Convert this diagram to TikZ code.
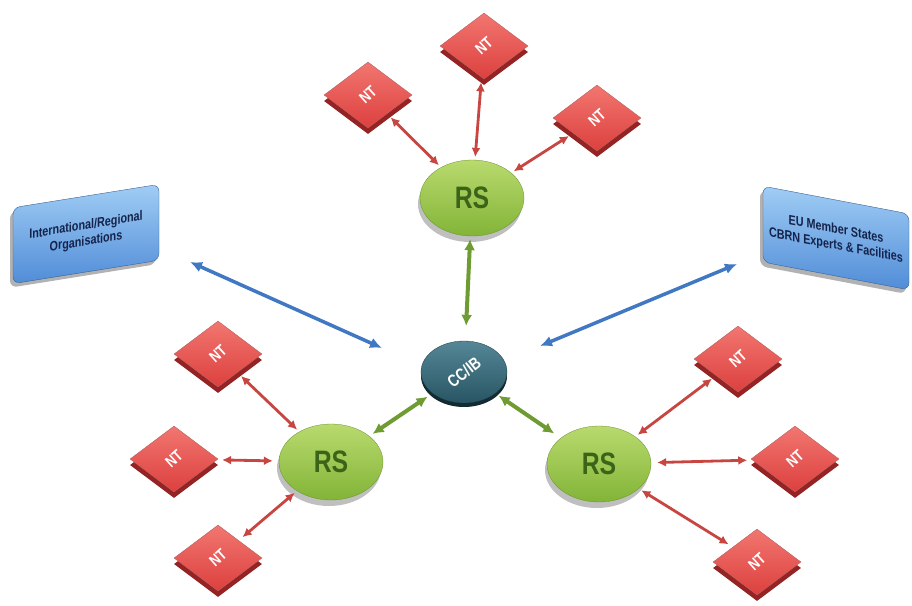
\documentclass[tikz,border=0pt]{standalone}
\usepackage{fontspec}
\setmainfont{Liberation Sans}
\newfontfamily\narrowsans[FakeStretch=0.8]{Liberation Sans}
\usetikzlibrary{shapes.geometric,shadows,arrows.meta}
\definecolor{ntlight}{RGB}{242,118,112}
\definecolor{ntface}{RGB}{220,64,62}
\definecolor{ntdark}{RGB}{150,35,35}
\definecolor{rslight}{RGB}{185,218,110}
\definecolor{rsface}{RGB}{130,180,55}
\definecolor{rstext}{RGB}{60,100,25}
\definecolor{cclight}{RGB}{85,135,150}
\definecolor{ccface}{RGB}{40,85,100}
\definecolor{boxlight}{RGB}{160,205,245}
\definecolor{boxface}{RGB}{80,140,215}
\definecolor{boxtext}{RGB}{20,35,75}
\definecolor{bluearr}{RGB}{65,120,195}
\definecolor{greenarr}{RGB}{110,155,50}
\definecolor{redarr}{RGB}{200,70,65}

\begin{document}
\begin{tikzpicture}[x=1pt, y=-1pt,
  nt/.style={diamond, minimum width=88pt, minimum height=66pt, inner sep=0pt,
    top color=ntlight, bottom color=ntface, draw=ntdark!70, line width=0.4pt,
    drop shadow={opacity=1, fill=ntdark, shadow xshift=0pt, shadow yshift=-6pt},
    text=white, font=\narrowsans\bfseries\fontsize{16}{16}\selectfont},
  rs/.style={ellipse, minimum width=104pt, minimum height=76pt, inner sep=0pt,
    top color=rslight, bottom color=rsface, draw=rsface!80!black, line width=0.3pt,
    drop shadow={opacity=1, fill=black!25, shadow xshift=-2pt, shadow yshift=-6pt},
    text=rstext, font=\narrowsans\bfseries\fontsize{31}{31}\selectfont},
  hub/.style={ellipse, minimum width=86pt, minimum height=62pt, inner sep=0pt,
    top color=cclight, bottom color=ccface, draw=ccface!70!black, line width=0.3pt,
    drop shadow={opacity=1, fill=ccface!50!black, shadow xshift=0pt, shadow yshift=-4pt},
    text=white, font=\narrowsans\bfseries\fontsize{17}{17}\selectfont},
  org/.style={rectangle, rounded corners=7pt, minimum width=146pt, minimum height=76pt,
    align=center, top color=boxlight, bottom color=boxface, draw=boxface!70!black,
    line width=0.4pt, drop shadow={opacity=0.5, fill=black!60, shadow xshift=-3pt, shadow yshift=-4pt},
    text=boxtext, font=\narrowsans\bfseries\fontsize{13.5}{16}\selectfont},
  redlink/.style={redarr, line width=2.8pt, {Latex[length=9pt,width=9pt]}-{Latex[length=9pt,width=9pt]}},
  greenlink/.style={greenarr, line width=4pt, {Latex[length=11pt,width=11pt]}-{Latex[length=11pt,width=11pt]}},
  bluelink/.style={bluearr, line width=3.5pt, {Latex[length=12pt,width=11pt]}-{Latex[length=12pt,width=11pt]}}]
  \useasboundingbox (0,0) rectangle (912,605);

  \node[rs] (rsT) at (472,198) {RS};
  \node[rs] (rsL) at (331,462) {RS};
  \node[rs] (rsR) at (599,464) {RS};
  \node[hub] (cc) at (464,372) {\rotatebox{38}{CC/IB}};

  \node[nt] (ntT1) at (368,95) {\rotatebox{42}{NT}};
  \node[nt] (ntT2) at (484,46) {\rotatebox{42}{NT}};
  \node[nt] (ntT3) at (597,118) {\rotatebox{42}{NT}};
  \node[nt] (ntL1) at (218,354) {\rotatebox{42}{NT}};
  \node[nt] (ntL2) at (174,459) {\rotatebox{42}{NT}};
  \node[nt] (ntL3) at (218,558) {\rotatebox{42}{NT}};
  \node[nt] (ntR1) at (738,359) {\rotatebox{42}{NT}};
  \node[nt] (ntR2) at (795,459) {\rotatebox{42}{NT}};
  \node[nt] (ntR3) at (757,562) {\rotatebox{42}{NT}};

  \node[org, yslant=0.16] (orgL) at (86,234) {International/Regional\\Organisations};
  \node[org, yslant=-0.19] (orgR) at (836,238) {EU Member States\\CBRN Experts \& Facilities};

  \coordinate (bL1) at (190,262);
  \coordinate (bL2) at (382,348);
  \coordinate (bR1) at (737,264);
  \coordinate (bR2) at (540,346);

  \draw[bluelink] (bL1) -- (bL2);
  \draw[bluelink] (bR1) -- (bR2);

  \draw[greenlink, shorten <=3pt, shorten >=15pt] (rsT) -- (cc);
  \draw[greenlink, shorten <=6pt, shorten >=4pt] (cc) -- (rsL);
  \draw[greenlink, shorten <=4pt, shorten >=8pt] (cc) -- (rsR);

  \draw[redlink, shorten <=5pt, shorten >=3pt] (ntT1) -- (rsT);
  \draw[redlink, shorten <=5pt, shorten >=3pt] (ntT2) -- (rsT);
  \draw[redlink, shorten <=5pt, shorten >=3pt] (ntT3) -- (rsT);
  \draw[redlink, shorten <=5pt, shorten >=3pt] (ntL1) -- (rsL);
  \draw[redlink, shorten <=5pt, shorten >=6pt] (ntL2) -- (rsL);
  \draw[redlink, shorten <=5pt, shorten >=3pt] (ntL3) -- (rsL);
  \draw[redlink, shorten <=5pt, shorten >=3pt] (ntR1) -- (rsR);
  \draw[redlink, shorten <=5pt, shorten >=6pt] (ntR2) -- (rsR);
  \draw[redlink, shorten <=5pt, shorten >=3pt] (ntR3) -- (rsR);
\end{tikzpicture}
\end{document}
